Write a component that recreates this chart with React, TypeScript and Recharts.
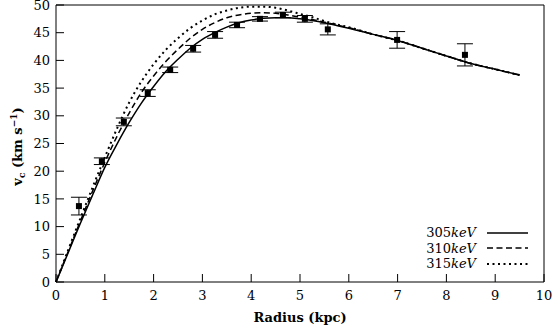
import React from "react";
import {
  ComposedChart,
  Line,
  Scatter,
  ErrorBar,
  XAxis,
  YAxis,
  Legend,
  Label,
} from "recharts";

// model curves (radius in kpc, circular velocity in km/s)
const radius = [
  0, 0.25, 0.5, 0.75, 1, 1.25, 1.5, 1.75, 2, 2.25, 2.5, 2.75, 3, 3.25, 3.5,
  3.75, 4, 4.25, 4.5, 4.75, 5, 5.25, 5.5, 5.75, 6, 6.5, 7, 7.5, 8, 8.5, 9, 9.5,
];
const v305 = [
  0, 5.3, 10.6, 15.7, 20.7, 24.9, 28.8, 32.3, 35.3, 38.0, 40.2, 42.2, 43.8,
  45.0, 46.0, 46.8, 47.3, 47.6, 47.7, 47.7, 47.5, 47.2, 46.8, 46.3, 45.8, 44.7,
  43.6, 42.2, 40.8, 39.45, 38.4, 37.35,
];
const v310 = [
  0, 5.5, 11.0, 16.4, 21.6, 26.3, 30.5, 34.2, 37.2, 39.8, 42.0, 44.0, 45.6,
  46.8, 47.7, 48.2, 48.5, 48.6, 48.5, 48.2, 47.8, 47.4, 46.9, 46.4, 45.9, 44.7,
  43.6, 42.2, 40.8, 39.45, 38.4, 37.35,
];
const v315 = [
  0, 5.8, 11.5, 17.1, 22.5, 27.7, 32.4, 36.2, 39.3, 41.9, 44.0, 45.8, 47.2,
  48.3, 49.0, 49.5, 49.7, 49.7, 49.5, 49.0, 48.4, 47.8, 47.1, 46.5, 46.0, 44.7,
  43.6, 42.2, 40.8, 39.45, 38.4, 37.35,
];

// observed rotation curve
const obsRadius = [0.47, 0.94, 1.39, 1.88, 2.34, 2.81, 3.26, 3.71, 4.18, 4.65, 5.1, 5.57, 6.99, 8.38];
const obsV = [13.7, 21.8, 28.9, 34.1, 38.3, 42.1, 44.6, 46.4, 47.5, 48.2, 47.5, 45.6, 43.7, 41.0];
const obsErr = [1.6, 0.6, 0.7, 0.6, 0.5, 0.6, 0.6, 0.5, 0.4, 0.5, 0.6, 1.0, 1.5, 2.0];

const xTicks = [0, 1, 2, 3, 4, 5, 6, 7, 8, 9, 10];
const yTicks = [0, 5, 10, 15, 20, 25, 30, 35, 40, 45, 50];

const curveData = radius.map((r, i) => ({
  r,
  v305: v305[i],
  v310: v310[i],
  v315: v315[i],
}));
const obsData = obsRadius.map((r, i) => ({ r, v: obsV[i], err: obsErr[i] }));

const FONT = "'DejaVu Serif', 'Liberation Serif', serif";
const tickStyle = { fontSize: 13, fontFamily: FONT, fill: "#000" };

function YLabel({ viewBox }: any) {
  const cx = viewBox.x + 22;
  const cy = viewBox.y + viewBox.height / 2 + 3;
  return (
    <text
      x={cx}
      y={cy}
      transform={`rotate(-90 ${cx} ${cy})`}
      textAnchor="middle"
      fontFamily={FONT}
      fontWeight="bold"
      fontSize={13}
      fill="#000"
    >
      v
      <tspan fontSize={9} dy={3}>c</tspan>
      <tspan dy={-3}> (km s</tspan>
      <tspan fontSize={9} dy={-5}>−1</tspan>
      <tspan dy={5}>)</tspan>
    </text>
  );
}

function Square({ cx, cy }: any) {
  return <rect x={cx - 3} y={cy - 3} width={6} height={6} fill="#000" />;
}

function LegendBox({ payload }: any) {
  // order as in the reference: 305, 310, 315
  const items = (payload || [])
    .filter((p: any) => p.type !== "none" && String(p.value).includes("keV"))
    .sort((a: any, b: any) => String(a.value).localeCompare(String(b.value)));
  return (
    <div style={{ fontFamily: FONT, fontSize: 13, color: "#000" }}>
      {items.map((p: any) => {
        const name = String(p.value);
        const dash = p.payload?.strokeDasharray;
        const sw = p.payload?.strokeWidth ?? 1.5;
        return (
          <div
            key={name}
            style={{
              display: "flex",
              alignItems: "center",
              justifyContent: "flex-end",
              height: 15.5,
              lineHeight: "15.5px",
            }}
          >
            <span>
              {name.replace("keV", "")}
              <i>keV</i>
            </span>
            <svg width={41} height={4} style={{ marginLeft: 11 }}>
              <line x1={0} y1={2} x2={41} y2={2} stroke="#000" strokeWidth={sw} strokeDasharray={dash} />
            </svg>
          </div>
        );
      })}
    </div>
  );
}

export default function App() {
  return (
    <div style={{ position: "absolute", left: 0, top: 0, background: "#fff" }}>
      <ComposedChart
        width={552}
        height={331}
        data={curveData}
        margin={{ top: 4, right: 7, bottom: 0, left: 0 }}
      >
        <XAxis
          dataKey="r"
          type="number"
          domain={[0, 10]}
          ticks={xTicks}
          interval={0}
          height={49}
          tickSize={-8}
          tickMargin={17}
          tick={tickStyle}
          stroke="#000"
        >
          <Label
            value="Radius (kpc)"
            position="insideBottom"
            offset={9}
            style={{ fontFamily: FONT, fontWeight: "bold", fontSize: 13, fill: "#000" }}
          />
        </XAxis>
        <XAxis
          xAxisId="top"
          orientation="top"
          dataKey="r"
          type="number"
          domain={[0, 10]}
          ticks={xTicks}
          interval={0}
          height={1}
          tickSize={-8}
          tick={false}
          stroke="#000"
        />
        <YAxis
          type="number"
          domain={[0, 50]}
          ticks={yTicks}
          interval={0}
          width={56}
          tickSize={-8}
          tickMargin={14}
          tick={tickStyle}
          stroke="#000"
        >
          <Label content={YLabel} />
        </YAxis>
        <YAxis
          yAxisId="right"
          orientation="right"
          type="number"
          domain={[0, 50]}
          ticks={yTicks}
          interval={0}
          width={1}
          tickSize={-8}
          tick={false}
          stroke="#000"
        />
        <Legend
          layout="vertical"
          align="center"
          verticalAlign="middle"
          wrapperStyle={{ left: 400, top: 225, width: 128 }}
          content={(props: any) => <LegendBox {...props} />}
        />
        <Line
          dataKey="v315"
          name="315keV"
          type="monotone"
          stroke="#000"
          strokeWidth={2}
          strokeDasharray="2 3.5"
          dot={false}
          activeDot={false}
          isAnimationActive={false}
        />
        <Line
          dataKey="v310"
          name="310keV"
          type="monotone"
          stroke="#000"
          strokeWidth={1.5}
          strokeDasharray="6 3.5"
          dot={false}
          activeDot={false}
          isAnimationActive={false}
        />
        <Line
          dataKey="v305"
          name="305keV"
          type="monotone"
          stroke="#000"
          strokeWidth={1.5}
          dot={false}
          activeDot={false}
          isAnimationActive={false}
        />
        <Scatter
          data={obsData}
          dataKey="v"
          name="data"
          shape={Square}
          legendType="none"
          isAnimationActive={false}
        >
          <ErrorBar dataKey="err" direction="y" width={8} stroke="#000" strokeWidth={1} />
        </Scatter>
      </ComposedChart>
    </div>
  );
}
